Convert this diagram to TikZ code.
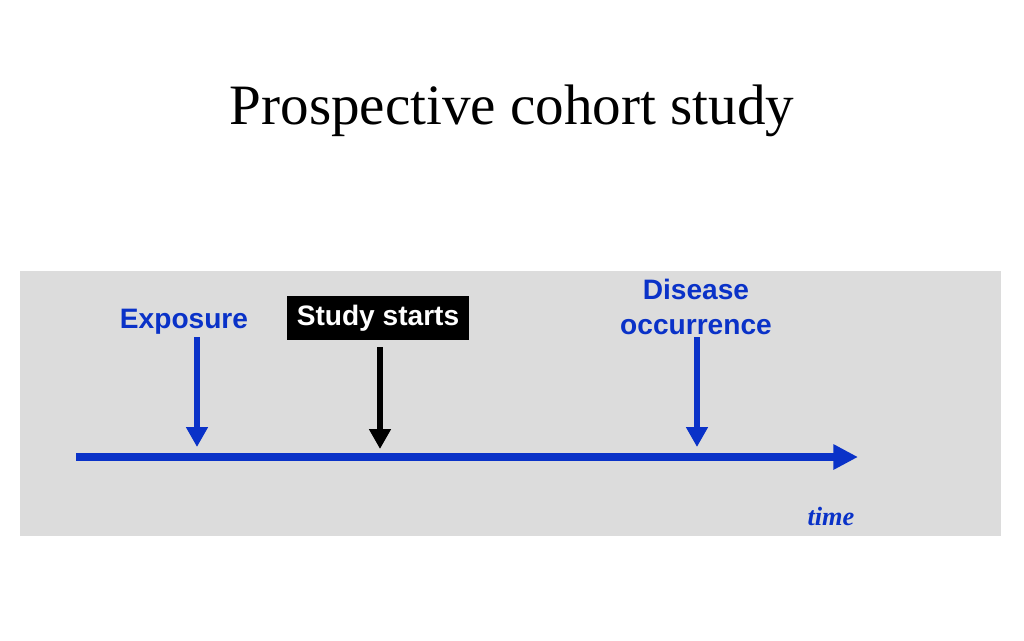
\documentclass[tikz,border=0pt]{standalone}
\usepackage{fontspec}
\setmainfont{Liberation Serif}
\setsansfont{Liberation Sans}
\usepackage{xcolor}
\definecolor{CohortBlue}{HTML}{0A32C8}
\definecolor{PanelGray}{HTML}{DCDCDC}
\usepackage{tikz}
\usetikzlibrary{arrows.meta, positioning}
\tikzset{
  eventlabel/.style={font=\sffamily\bfseries\fontsize{16}{18}\selectfont, color=CohortBlue, align=center},
  eventarrow/.style={line width=3.5pt, -{Triangle[length=11.3pt, width=11.8pt]}},
}
\begin{document}
\begin{tikzpicture}[x=0.02cm, y=-0.02cm]
      \useasboundingbox (0,0) rectangle (1024,640);
      \fill[white] (0,0) rectangle (1024,640);
      \fill[PanelGray] (20,271) rectangle (1001,536);  % panel
        \node[font=\fontsize{32.5}{36}\selectfont] (title) at (512,111) {Prospective cohort study};
      % time axis
      \coordinate (axis start) at (76,457);
      \coordinate (axis end) at (858,457);
      \draw[CohortBlue, line width=4.5pt, -{Triangle[length=14pt, width=13.6pt]}] (axis start) -- (axis end);
        \node[font=\bfseries\itshape\fontsize{15}{18}\selectfont, color=CohortBlue] (time) at (831,516) {time};
      % events
        \node[eventlabel] (exposure) at (184,322) {Exposure};
        \node[fill=black, text=white, font=\sffamily\bfseries\fontsize{16}{18}\selectfont, minimum width=104pt, minimum height=25pt, inner sep=0pt] (start) at (378,318) {\raisebox{-1.5pt}{Study starts}};
        \node[eventlabel] (disease) at (696,307) {Disease\\[1.5pt]occurrence};
      \coordinate (exposure top) at (197,337);
      \coordinate (exposure tip) at (197,447);
      \coordinate (start top) at (380,347);
      \coordinate (start tip) at (380,449);
      \coordinate (disease top) at (697,337);
      \coordinate (disease tip) at (697,447);
      \draw[eventarrow, CohortBlue] (exposure top) -- (exposure tip);
      \draw[eventarrow, black] (start top) -- (start tip);
      \draw[eventarrow, CohortBlue] (disease top) -- (disease tip);
      \end{tikzpicture}
\end{document}
